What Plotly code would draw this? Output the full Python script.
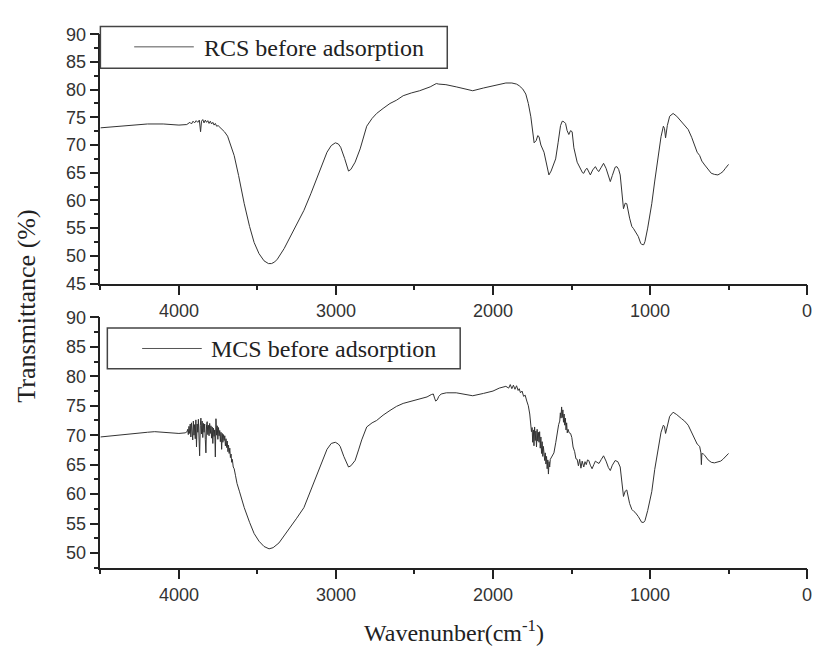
import plotly.graph_objects as go

# ---- FTIR spectra (wavenumber in cm-1, transmittance in %) ----
rcs_wn = [4500, 4400, 4300, 4200, 4100, 4000, 3950,
          3940, 3930, 3920, 3910, 3900, 3890, 3880, 3870, 3862, 3856, 3848, 3840,
          3832, 3824, 3816, 3808, 3800, 3792, 3784, 3776, 3768, 3760, 3750,
          3734, 3710, 3690, 3670, 3648, 3620, 3584, 3550, 3521, 3490, 3458, 3430,
          3410, 3390, 3373, 3330, 3289, 3250, 3204, 3160, 3120, 3090, 3057, 3030,
          3004, 2985, 2970, 2945, 2920, 2905, 2878, 2846, 2820, 2804, 2770, 2741,
          2700, 2656, 2614, 2572, 2520, 2467, 2400, 2361, 2345, 2300, 2234, 2180,
          2129, 2060, 2000, 1950, 1918, 1880, 1850, 1833, 1810, 1791, 1775, 1759,
          1745, 1738, 1725, 1715, 1707, 1695, 1675, 1660, 1644, 1630, 1615, 1601,
          1585, 1570, 1559, 1548, 1538, 1528, 1517, 1506, 1496, 1485, 1464, 1445,
          1430, 1422, 1410, 1401, 1390, 1380, 1365, 1348, 1338, 1327, 1310, 1296,
          1280, 1265, 1253, 1240, 1222, 1211, 1200, 1190, 1180, 1169, 1158, 1148,
          1130, 1116, 1105, 1095, 1075, 1060, 1053, 1040, 1032, 1015, 1000, 989,
          970, 947, 930, 915, 908, 901, 890, 875, 853, 830, 799, 780, 757, 735,
          715, 700, 684, 670, 652, 630, 610, 590, 568, 550, 536, 520, 505, 500]
rcs_t = [73.1, 73.3, 73.6, 73.8, 73.8, 73.6, 73.7,
         73.9, 74.1, 73.8, 74.3, 74.0, 74.4, 74.1, 74.5, 72.4, 74.3, 74.6, 74.0,
         74.5, 74.1, 74.4, 73.9, 74.3, 73.8, 74.1, 73.6, 73.9, 73.4, 73.5,
         73.1, 72.4, 71.6, 70.0, 68.1, 64.5, 59.4, 55.3, 52.4, 50.4, 49.1, 48.6,
         48.6, 48.9, 49.4, 51.3, 53.5, 55.6, 58.2, 61.2, 64.0, 66.3, 68.7, 69.9,
         70.4, 70.2, 69.6, 67.6, 65.3, 65.6, 66.9, 69.3, 72.0, 73.4, 74.8, 75.7,
         76.6, 77.5, 78.1, 78.9, 79.4, 79.8, 80.5, 81.1, 81.0, 80.9, 80.5, 80.1,
         79.8, 80.3, 80.7, 81.1, 81.2, 81.2, 81.0, 80.7, 80.1, 79.2, 77.5, 75.1,
         72.0, 70.4, 70.8, 71.7, 71.5, 70.0, 68.7, 66.5, 64.6, 65.3, 66.6, 67.5,
         70.5, 73.5, 74.3, 74.2, 73.9, 72.6, 71.9, 72.6, 72.4, 69.5, 66.9, 65.8,
         65.0, 64.9, 65.6, 65.8, 65.1, 64.6, 65.5, 66.1, 65.6, 65.2, 66.0, 66.7,
         65.8, 64.3, 63.4, 64.5, 66.0, 66.1, 65.6, 64.6, 61.5, 58.5, 59.5, 59.4,
         56.8, 55.3, 54.9, 54.4, 53.5, 52.3, 52.05, 52.0, 52.6, 55.0, 57.5, 59.4,
         63.5, 68.1, 71.5, 73.4, 73.0, 71.3, 73.5, 75.2, 75.7, 75.2, 74.2, 73.6, 72.8, 71.4,
         69.9, 68.7, 68.1, 67.1, 66.4, 65.5, 64.9, 64.7, 64.6, 64.9, 65.2, 65.8, 66.4, 66.5]

mcs_wn = [4500, 4400, 4300, 4200, 4154, 4100, 4000, 3960, 3952,
          3948, 3944, 3940, 3936, 3932, 3928, 3924, 3920, 3916, 3912, 3908, 3904,
          3900, 3896, 3892, 3888, 3884, 3880, 3876, 3872, 3868, 3864, 3860, 3856,
          3852, 3848, 3844, 3840, 3836, 3832, 3828, 3824, 3820, 3816, 3812, 3808,
          3804, 3800, 3796, 3792, 3788, 3784, 3780, 3776, 3772, 3768, 3764, 3760,
          3756, 3752, 3748, 3744, 3740, 3736, 3732, 3728, 3724, 3720, 3716, 3712,
          3708, 3704, 3700, 3696, 3692, 3688, 3684, 3680, 3676, 3672, 3668, 3664,
          3660, 3654, 3648, 3640, 3630, 3615,
          3600, 3584, 3550, 3521, 3490, 3458, 3426, 3400, 3363, 3330, 3289, 3250,
          3204, 3160, 3120, 3090, 3057, 3030, 3004, 2985, 2973, 2950, 2920, 2905,
          2878, 2856, 2836, 2804, 2770, 2741, 2700, 2656, 2614, 2572, 2520, 2467,
          2420, 2393, 2380, 2372, 2365, 2355, 2345, 2330, 2297, 2234, 2180, 2129,
          2060, 2000, 1960, 1918,
          1900, 1890, 1880, 1870, 1860, 1850, 1840, 1833, 1825, 1815, 1805, 1795,
          1785, 1775, 1766,
          1760, 1755, 1751, 1747, 1743, 1739, 1735, 1731, 1727, 1723, 1719, 1715,
          1711, 1707, 1703, 1699, 1695, 1691, 1687, 1683, 1679, 1675, 1671, 1667,
          1663, 1659, 1655, 1651, 1647, 1643, 1639, 1635,
          1630, 1620, 1612, 1600, 1590, 1582,
          1575, 1571, 1567, 1563, 1559, 1555, 1551, 1547, 1543, 1539, 1535, 1531,
          1527, 1522, 1515,
          1506, 1498, 1490, 1480, 1472, 1464, 1456, 1448, 1440,
          1432, 1422, 1414, 1406, 1398, 1390, 1380, 1369, 1358, 1348, 1338, 1325,
          1310, 1296, 1280, 1265, 1253, 1240, 1222, 1205, 1190, 1180, 1169, 1158,
          1148, 1130, 1116, 1105, 1095, 1075, 1060, 1053, 1040, 1032, 1015, 1000,
          989, 970, 947, 930, 915, 908, 901, 890, 875, 853, 830, 799, 780, 757,
          735, 715, 700, 684, 676, 673, 670, 660, 652, 630, 610, 590, 568, 550,
          536, 520, 505, 500]
mcs_t = [69.7, 70.0, 70.3, 70.5, 70.6, 70.5, 70.3, 70.4, 70.5,
         70.6, 71.0, 70.1, 71.5, 70.3, 71.9, 69.7, 72.1, 70.4, 69.2, 72.4, 70.0,
         71.8, 69.4, 72.6, 68.0, 71.9, 70.5, 72.7, 69.9, 66.5, 71.6, 72.9, 70.2,
         72.4, 69.6, 72.0, 70.5, 71.9, 69.3, 67.0, 71.8, 72.3, 70.1, 71.7, 69.9,
         72.0, 70.3, 71.6, 69.5, 71.4, 68.6, 71.2, 69.8, 70.9, 66.3, 72.8, 70.0,
         71.6, 69.3, 71.3, 69.9, 70.8, 68.9, 70.5, 67.6, 70.3, 68.8, 70.1, 69.1,
         69.9, 68.2, 69.4, 67.9, 69.0, 67.2, 68.3, 66.9, 67.8, 66.2, 66.8, 65.4,
         65.9, 64.6, 64.3, 63.2, 61.8, 60.5,
         59.2, 57.7, 55.2, 53.3, 52.0, 51.1, 50.7, 50.9, 51.7, 52.9, 54.4, 55.9,
         57.7, 60.6, 63.2, 65.5, 67.6, 68.6, 68.8, 68.5, 68.1, 66.4, 64.6, 64.8,
         65.7, 67.5, 69.2, 71.4, 72.1, 72.5, 73.4, 74.2, 74.9, 75.4, 75.8, 76.1,
         76.5, 76.9, 77.0, 76.3, 75.8, 76.0, 76.6, 77.0, 77.2, 77.2, 76.9, 76.7,
         77.1, 77.5, 78.0, 78.3,
         78.0, 78.6, 77.9, 78.5, 77.8, 78.4, 77.6, 77.9, 77.2, 77.5, 76.6, 76.8,
         75.8, 75.0, 73.6,
         72.0, 70.6, 71.3, 68.8, 70.9, 68.2, 71.4, 69.1, 70.7, 68.0, 71.0, 69.0,
         70.5, 68.8, 70.6, 67.8, 69.7, 66.9, 68.9, 66.4, 68.1, 66.9, 65.7, 67.0,
         65.1, 66.4, 64.3, 65.8, 63.4, 65.5, 64.6, 65.9,
         66.2, 66.5, 67.0, 68.8, 70.6, 71.8,
         72.4, 73.8, 72.9, 74.8, 73.0, 74.3, 72.2, 73.6, 71.7, 72.9, 70.9, 72.1,
         70.4, 71.0, 70.4,
         70.3, 69.6, 68.0, 67.2, 66.0, 65.9, 64.8, 65.9, 64.4,
         65.6, 64.6, 65.5, 65.0, 65.8, 65.7, 64.9, 64.3, 65.0, 65.6, 65.4, 65.2,
         65.9, 66.5, 65.6, 64.5, 64.0, 64.9, 65.7, 65.5, 64.6, 62.0, 59.6, 60.5,
         60.7, 58.4, 57.4, 57.1, 56.9, 56.2, 55.5, 55.2, 55.2, 55.5, 57.2, 59.0,
         60.4, 64.2, 68.1, 70.5, 71.7, 71.5, 70.3, 71.8, 73.2, 73.9, 73.5, 72.8, 72.4, 71.7,
         70.5, 69.2, 68.5, 68.1, 67.0, 65.0, 66.9, 66.8, 66.6, 65.8, 65.4, 65.3, 65.4, 65.6,
         65.9, 66.3, 66.8, 66.9]

assert len(rcs_wn) == len(rcs_t)
assert len(mcs_wn) == len(mcs_t)

sample_names = ["RCS before adsorption", "MCS before adsorption"]
x_ticks = [4000, 3000, 2000, 1000, 0]
y_ticks_top = [45, 50, 55, 60, 65, 70, 75, 80, 85, 90]
y_ticks_bottom = [50, 55, 60, 65, 70, 75, 80, 85, 90]

W, H = 824, 664
SERIF = "Liberation Serif"
SANS = "Liberation Sans"
AXIS_COLOR = "#222222"
LINE_COLOR = "#333333"


def px(x):
    return x / W


def py(y):
    return 1 - y / H


fig = go.Figure()
fig.add_trace(go.Scatter(x=rcs_wn, y=rcs_t, mode="lines", name=sample_names[0],
                         line=dict(color=LINE_COLOR, width=1), xaxis="x", yaxis="y",
                         showlegend=False))
fig.add_trace(go.Scatter(x=mcs_wn, y=mcs_t, mode="lines", name=sample_names[1],
                         line=dict(color=LINE_COLOR, width=1), xaxis="x2", yaxis="y2",
                         showlegend=False))

x_common = dict(
    range=[4500, 0], tickmode="array", tickvals=x_ticks,
    ticktext=[str(v) for v in x_ticks],
    ticks="outside", ticklen=10, tickwidth=1.5, tickcolor=AXIS_COLOR,
    minor=dict(dtick=500, tick0=0, ticks="outside", ticklen=5, tickwidth=1.5,
               tickcolor=AXIS_COLOR, showgrid=False),
    showline=True, linecolor=AXIS_COLOR, linewidth=1.5, showgrid=False,
    zeroline=False, tickfont=dict(family=SANS, size=18, color="#333333"),
    domain=[px(101), px(812)],
)
y_common = dict(
    ticks="outside", ticklen=9, tickwidth=1.5, tickcolor=AXIS_COLOR,
    showline=True, linecolor=AXIS_COLOR, linewidth=1.5, showgrid=False,
    zeroline=False, tickfont=dict(family=SANS, size=18, color="#333333"),
)

fig.update_layout(
    width=W, height=H, margin=dict(l=0, r=0, t=0, b=0),
    paper_bgcolor="white", plot_bgcolor="white",
    xaxis=dict(anchor="y", **x_common),
    xaxis2=dict(anchor="y2", **x_common),
    yaxis=dict(anchor="x", range=[45, 90], tickmode="array", tickvals=y_ticks_top,
               domain=[py(282), py(25)],
               minor=dict(dtick=2.5, tick0=0, ticks="outside", ticklen=5, tickwidth=1.5,
                          tickcolor=AXIS_COLOR, showgrid=False),
               **y_common),
    yaxis2=dict(anchor="x2", range=[47.5, 90], tickmode="array", tickvals=y_ticks_bottom,
                domain=[py(575), py(317)],
                minor=dict(dtick=2.5, tick0=0, ticks="outside", ticklen=5, tickwidth=1.5,
                           tickcolor=AXIS_COLOR, showgrid=False),
                **y_common),
)

# Legend boxes with a line sample and the sample name
legend_boxes = [
    dict(box=(101, 17, 450, 60), line_y=38, line_x=(135, 195), text_x=203),
    dict(box=(108, 328, 463, 370), line_y=349, line_x=(143, 203), text_x=210),
]
for name, lb in zip(sample_names, legend_boxes):
    x0, y0, x1, y1 = lb["box"]
    fig.add_shape(type="rect", xref="paper", yref="paper",
                  x0=px(x0), x1=px(x1), y0=py(y1), y1=py(y0),
                  line=dict(color="#444444", width=1.5), fillcolor="white")
    fig.add_shape(type="line", xref="paper", yref="paper",
                  x0=px(lb["line_x"][0]), x1=px(lb["line_x"][1]),
                  y0=py(lb["line_y"]), y1=py(lb["line_y"]),
                  line=dict(color="#555555", width=1))
    fig.add_annotation(xref="paper", yref="paper", x=px(lb["text_x"]), y=py(lb["line_y"] + 1),
                       text=name, showarrow=False, xanchor="left", yanchor="middle",
                       font=dict(family=SERIF, size=24, color="#222222"))

# Axis titles
fig.add_annotation(xref="paper", yref="paper", x=px(27), y=py(305),
                   text="Transmittance (%)", showarrow=False, textangle=-90,
                   xanchor="center", yanchor="middle",
                   font=dict(family=SERIF, size=26, color="#222222"))
fig.add_annotation(xref="paper", yref="paper", x=px(457), y=py(640),
                   text="Wavenunber(cm<sup>-1</sup>)", showarrow=False,
                   xanchor="center", yanchor="middle",
                   font=dict(family=SERIF, size=24, color="#222222"))

fig.write_html("out.html")
